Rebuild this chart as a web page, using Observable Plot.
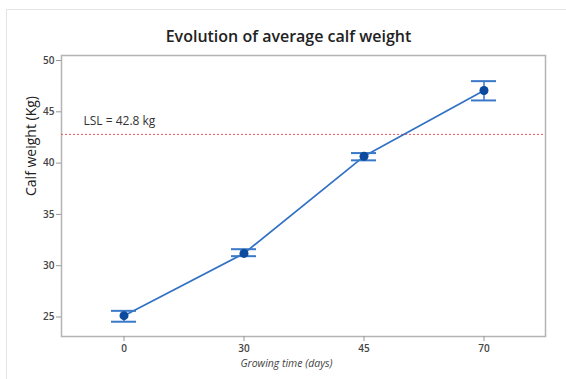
<!DOCTYPE html>
<html><head><meta charset="utf-8">
<script src="https://cdn.jsdelivr.net/npm/d3@7"></script>
<script src="https://cdn.jsdelivr.net/npm/@observablehq/plot@0.6"></script>
<style>
body{margin:0;background:#fff;}
#wrap{position:relative;width:566px;height:379px;overflow:hidden;}
#border{position:absolute;left:6px;top:9px;width:620px;height:420px;border:1px solid #e4e4e4;}
#chart{position:absolute;left:0;top:0;}
</style></head><body>
<div id="wrap"><div id="border"></div><div id="chart"></div></div>
<script>
const days = ["0", "30", "45", "70"];
const means = [25.13, 31.2, 40.66, 47.08];
const lower = [24.54, 30.93, 40.27, 46.11];
const upper = [25.6, 31.61, 40.98, 47.99];
const yTicks = [25, 30, 35, 40, 45, 50];
const lsl = 42.8;
const lslLabel = "LSL = 42.8 kg";
const title = "Evolution of average calf weight";
const yLabel = "Calf weight (Kg)";
const xLabel = "Growing time (days)";

const data = days.map((d, i) => ({day: d, mean: means[i], lo: lower[i], hi: upper[i]}));

const chart = Plot.plot({
  width: 566,
  height: 379,
  marginLeft: 61,
  marginRight: 21,
  marginTop: 55,
  marginBottom: 43,
  style: {fontFamily: "'Open Sans', sans-serif", background: "transparent"},
  x: {type: "band", domain: days, paddingInner: 0.793, paddingOuter: 0.397},
  y: {domain: [23.1, 50.49]},
  marks: [
    Plot.frame({stroke: "#b4b4b4", strokeWidth: 1.5}),
    Plot.axisY({ticks: yTicks, tickSize: 5, tickPadding: 2, fontSize: 10, fontWeight: 600, stroke: "#999", fill: "#444", label: null}),
    Plot.axisX({tickSize: 5, tickPadding: 3, fontSize: 10, fontWeight: 600, stroke: "#999", fill: "#444", label: null}),
    Plot.ruleY([lsl], {stroke: "#ee5656", strokeDasharray: "2,2", strokeWidth: 1}),
    Plot.text([{y: lsl, t: lslLabel}], {frameAnchor: "left", y: "y", text: "t", dx: 22, dy: -13, textAnchor: "start", fontSize: 12, fill: "#333"}),
    Plot.line(data, {x: "day", y: "mean", stroke: "#3272c4", strokeWidth: 1.7}),
    Plot.ruleX(data, {x: "day", y1: "lo", y2: "hi", stroke: "#3a78c8", strokeWidth: 1.5}),
    Plot.tickY(data, {x: "day", y: "lo", stroke: "#3a78c8", strokeWidth: 2}),
    Plot.tickY(data, {x: "day", y: "hi", stroke: "#3a78c8", strokeWidth: 2}),
    Plot.dot(data, {x: "day", y: "mean", r: 4.5, fill: "#0b4a9c", stroke: "none"}),
    Plot.text([title], {frameAnchor: "top", dx: -15, dy: -25, fontSize: 16, fontWeight: 600, fill: "#222"}),
    Plot.text([yLabel], {frameAnchor: "left", dx: -30, rotate: -90, fontSize: 14, fontWeight: 500, fill: "#222"}),
    Plot.text([xLabel], {frameAnchor: "bottom", dx: -17, dy: 30, fontSize: 10.5, fontStyle: "italic", fill: "#444"})
  ]
});
document.getElementById("chart").appendChild(chart);
</script>
</body></html>
